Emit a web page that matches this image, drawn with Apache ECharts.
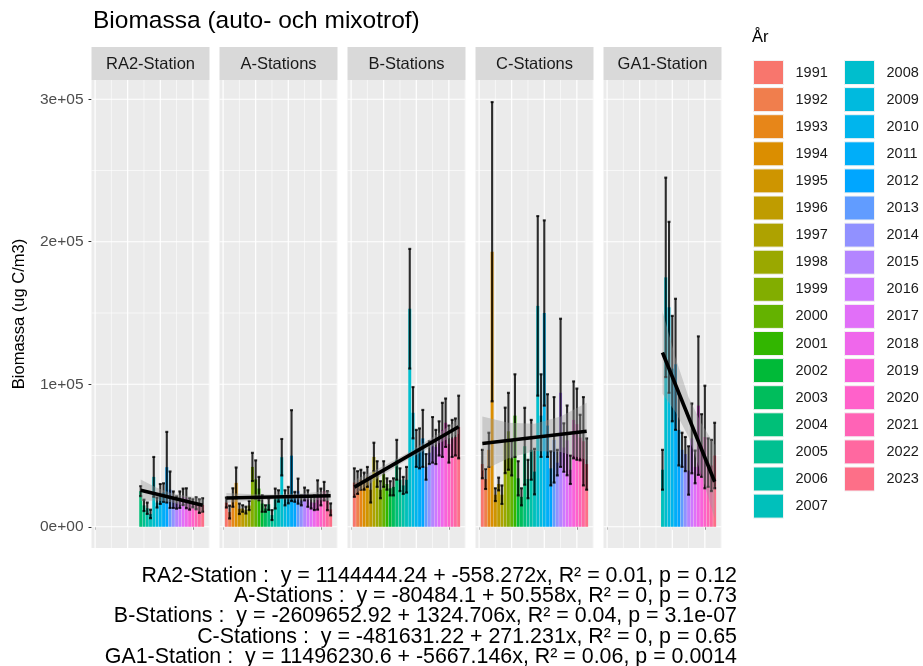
<!DOCTYPE html>
<html><head><meta charset="utf-8">
<script src="https://cdn.jsdelivr.net/npm/echarts@6/dist/echarts.min.js"></script>
<style>html,body{margin:0;padding:0;background:#fff}#c{width:923px;height:666px}</style>
</head><body><div id="c"></div>
<script>
// ---------------- DATA ----------------
const allYears = [1991,1992,1993,1994,1995,1996,1997,1998,1999,2000,2001,2002,2003,2004,2005,2006,2007,2008,2009,2010,2011,2012,2013,2014,2015,2016,2017,2018,2019,2020,2021,2022,2023];
const ra2Years = [2004,2005,2006,2007,2008,2009,2010,2011,2012,2013,2014,2015,2016,2017,2018,2019,2020,2021,2022,2023];
const ga1Years = [2007,2008,2009,2010,2011,2012,2013,2014,2015,2016,2017,2018,2019,2020,2021,2022,2023];

const stationNames = ["RA2-Station","A-Stations","B-Stations","C-Stations","GA1-Station"];

const ra2Mean = [25000,15000,13000,9000,35000,17000,23000,24000,41800,26000,19000,17000,19000,21000,20000,16000,16500,16500,14500,15300];
const ra2Sd   = [3500,4000,4000,3000,14000,3500,7000,6500,24800,12800,5800,4300,5800,5800,7000,4000,2800,4200,4800,4700];

const aMean = [17000,10300,20500,30800,12600,12800,11700,14900,42000,33200,26800,16300,12800,15800,8200,19800,21600,48800,20300,22200,49900,21000,25000,18500,23000,19800,17100,16900,22300,20900,25000,18300,12200];
const aSd   = [3500,4500,6500,10800,3700,2300,2400,3200,9900,13400,8200,5800,2300,4000,3500,7000,4000,12800,5300,5800,31900,3500,8800,3500,4500,5800,4300,5200,10300,5900,6500,6700,4200];

const bMean = [31000,31000,33000,32000,35000,26000,49000,37000,26000,37000,30000,27000,28000,47000,33000,29000,33000,153000,80000,55000,55000,62000,42000,52000,61000,56000,62000,68000,73000,58000,62000,63000,70000];
const bSd   = [10000,8000,7000,6000,7000,9000,10000,9000,6000,9000,4000,5000,6000,14000,8000,6000,9000,42000,18000,13000,14000,20000,9000,8000,16000,12000,12000,19000,17000,13000,13000,13000,22000];

const cMean = [44000,33500,54000,193000,22500,30000,22500,60600,67000,48000,78000,34000,21000,56500,33500,54000,38700,155000,78000,150000,71000,41000,61000,45000,94000,55600,60600,40000,75000,72000,62600,60000,44000];
const cSd   = [10000,7000,12000,105000,4500,4500,6500,23000,27000,12000,29000,12000,6000,27000,13500,21000,16000,63000,29000,65000,22000,12000,30000,9000,52000,17000,24500,10000,27000,25000,16000,31000,18000];

const ga1Mean = [40000,175000,154000,111000,114000,68000,54000,51000,39500,62000,42000,85000,57000,63000,45000,43000,50000];
const ga1Sd   = [14000,70000,60000,37000,46000,25000,12000,12000,17000,24500,11500,48600,22000,36000,17000,18000,23000];

// regression (from the printed equations)
const regIntercept = [1144444.24, -80484.1, -2609652.92, -481631.22, 11496230.6];
const regSlope     = [-558.272, 50.558, 1324.706, 271.231, -5667.146];

// confidence band: positions and half widths
const ra2BandX = [2004,2008.75,2013.5,2018.25,2023];
const ra2BandHalf = [7500,4500,3200,3800,5000];
const aBandX = [1991,1999,2007,2015,2023];
const aBandHalf = [3500,2200,1600,2200,3500];
const bBandX = [1991,1999,2007,2015,2023];
const bBandHalf = [5000,3200,2400,3200,5000];
const cBandX = [1991,1999,2007,2015,2023];
const cBandHalf = [19000,12500,9500,12500,20000];
const ga1BandX = [2007,2011,2015,2019,2023];
const ga1BandHalf = [29000,19000,14000,18000,26000];

// ticks
const xMajorTicks = [1990,2000,2010,2020];
const xMinorTicks = [1995,2005,2015,2025];
const yMajorTicks = [0,100000,200000,300000];
const yMinorTicks = [50000,150000,250000];
const yTickLabels = ["0e+00","1e+05","2e+05","3e+05"];

const captionLines = [
  "RA2-Station :  y = 1144444.24 + -558.272x, R\u00b2 = 0.01, p = 0.12",
  "A-Stations :  y = -80484.1 + 50.558x, R\u00b2 = 0, p = 0.73",
  "B-Stations :  y = -2609652.92 + 1324.706x, R\u00b2 = 0.04, p = 3.1e-07",
  "C-Stations :  y = -481631.22 + 271.231x, R\u00b2 = 0, p = 0.65",
  "GA1-Station :  y = 11496230.6 + -5667.146x, R\u00b2 = 0.06, p = 0.0014"
];

// ---------------- STYLE / LAYOUT ----------------
const FONT = '"Liberation Sans", Arial, Helvetica, sans-serif';
const P_LEFT0 = 91.5, P_PITCH = 128, P_W = 118, P_TOP = 80, P_H = 468;
const X_MIN = 1988.9, X_MAX = 2025.1, Y_MIN = -14900, Y_MAX = 313500;

// ggplot2 hue palette (style colours)
function hcl(h, c, l) {
  const hr = h * Math.PI / 180;
  const U = c * Math.cos(hr), V = c * Math.sin(hr);
  const Xn = 95.047, Yn = 100, Zn = 108.883;
  const den = Xn + 15 * Yn + 3 * Zn;
  const un = 4 * Xn / den, vn = 9 * Yn / den;
  const Y = Yn * (l > 8 ? Math.pow((l + 16) / 116, 3) : l / 903.3);
  const u = U / (13 * l) + un, v = V / (13 * l) + vn;
  const X = 9 * Y * u / (4 * v);
  const Z = Y * (12 - 3 * u - 20 * v) / (4 * v);
  const x = X / 100, y = Y / 100, z = Z / 100;
  let r = 3.240479 * x - 1.537150 * y - 0.498535 * z;
  let g = -0.969256 * x + 1.875992 * y + 0.041556 * z;
  let b = 0.055648 * x - 0.204043 * y + 1.057311 * z;
  const gam = t => t <= 0.0031308 ? 12.92 * t : 1.055 * Math.pow(t, 1 / 2.4) - 0.055;
  const to = t => Math.round(Math.max(0, Math.min(1, gam(t))) * 255);
  return 'rgb(' + to(r) + ',' + to(g) + ',' + to(b) + ')';
}
const palette = allYears.map((y, i) => hcl(15 + i * 360 / allYears.length, 100, 65));
const yearColor = y => palette[allYears.indexOf(y)];

const panels = [
  {name: stationNames[0], years: ra2Years, mean: ra2Mean, sd: ra2Sd, bandX: ra2BandX, bandHalf: ra2BandHalf},
  {name: stationNames[1], years: allYears, mean: aMean, sd: aSd, bandX: aBandX, bandHalf: aBandHalf},
  {name: stationNames[2], years: allYears, mean: bMean, sd: bSd, bandX: bBandX, bandHalf: bBandHalf},
  {name: stationNames[3], years: allYears, mean: cMean, sd: cSd, bandX: cBandX, bandHalf: cBandHalf},
  {name: stationNames[4], years: ga1Years, mean: ga1Mean, sd: ga1Sd, bandX: ga1BandX, bandHalf: ga1BandHalf}
];

const grids = [], xAxes = [], yAxes = [], series = [], graphics = [];

panels.forEach((p, i) => {
  const left = P_LEFT0 + i * P_PITCH;
  grids.push({left: left, top: P_TOP, width: P_W, height: P_H, show: true, backgroundColor: '#EBEBEB', borderWidth: 0, containLabel: false});
  xAxes.push({type: 'value', gridIndex: i, min: X_MIN, max: X_MAX,
    axisLine: {show: false}, splitLine: {show: false},
    axisTick: {show: true, customValues: xMajorTicks, length: 3, lineStyle: {color: '#333333', width: 1}},
    axisLabel: {show: false}});
  yAxes.push({type: 'value', gridIndex: i, min: Y_MIN, max: Y_MAX,
    axisLine: {show: false}, splitLine: {show: false},
    axisTick: {show: i === 0, customValues: yMajorTicks, length: 3, lineStyle: {color: '#333333', width: 1}},
    axisLabel: {show: i === 0, customValues: yMajorTicks, margin: 8, fontSize: 15.5, fontFamily: FONT, color: '#4D4D4D',
      formatter: v => yTickLabels[yMajorTicks.indexOf(v)]}});

  const gridData = [].concat(
    xMajorTicks.map(v => [v, 0, 1]), xMinorTicks.map(v => [v, 0, 0]),
    yMajorTicks.map(v => [v, 1, 1]), yMinorTicks.map(v => [v, 1, 0]));
  series.push({type: 'custom', xAxisIndex: i, yAxisIndex: i, silent: true, z: 1, animation: false,
    data: gridData,
    renderItem: (params, api) => {
      const cs = params.coordSys;
      const v = api.value(0), ax = api.value(1), major = api.value(2);
      let shape;
      if (ax === 0) { const x = api.coord([v, 0])[0]; shape = {x1: x, y1: cs.y, x2: x, y2: cs.y + cs.height}; }
      else { const y = api.coord([2000, v])[1]; shape = {x1: cs.x, y1: y, x2: cs.x + cs.width, y2: y}; }
      return {type: 'line', shape: shape, style: {stroke: '#FFFFFF', lineWidth: major ? 1.2 : 0.6}};
    }});

  const barData = p.years.map((y, k) => [y, p.mean[k], p.sd[k]]);
  series.push({type: 'custom', xAxisIndex: i, yAxisIndex: i, silent: true, z: 2, animation: false,
    data: barData,
    renderItem: (params, api) => {
      const y = api.value(0), m = api.value(1);
      const p0 = api.coord([y - 0.45, m]), p1 = api.coord([y + 0.45, 0]);
      return {type: 'rect', shape: {x: p0[0], y: p0[1], width: p1[0] - p0[0], height: p1[1] - p0[1]}, style: {fill: yearColor(y)}};
    }});
  series.push({type: 'custom', xAxisIndex: i, yAxisIndex: i, silent: true, z: 3, animation: false,
    data: barData,
    renderItem: (params, api) => {
      const y = api.value(0), m = api.value(1), s = api.value(2);
      const top = api.coord([y, m + s]), bot = api.coord([y, m - s]);
      const l = api.coord([y - 0.45, m])[0], r = api.coord([y + 0.45, m])[0];
      const st = {stroke: 'rgba(0,0,0,0.82)', lineWidth: 2.1};
      return {type: 'group', children: [
        {type: 'line', shape: {x1: top[0], y1: top[1], x2: bot[0], y2: bot[1]}, style: st},
        {type: 'line', shape: {x1: l, y1: top[1], x2: r, y2: top[1]}, style: st},
        {type: 'line', shape: {x1: l, y1: bot[1], x2: r, y2: bot[1]}, style: st}
      ]};
    }});

  const a = regIntercept[i], b = regSlope[i];
  series.push({type: 'custom', xAxisIndex: i, yAxisIndex: i, silent: true, z: 4, animation: false,
    data: [[p.bandX[0], 0]],
    renderItem: (params, api) => {
      const up = p.bandX.map((x, k) => api.coord([x, a + b * x + p.bandHalf[k]]));
      const lo = p.bandX.map((x, k) => api.coord([x, a + b * x - p.bandHalf[k]])).reverse();
      return {type: 'polygon', shape: {points: up.concat(lo)}, style: {fill: 'rgba(153,153,153,0.4)'}};
    }});
  const x0 = p.years[0], x1 = p.years[p.years.length - 1];
  series.push({type: 'line', xAxisIndex: i, yAxisIndex: i, silent: true, z: 5, animation: false,
    data: [[x0, a + b * x0], [x1, a + b * x1]], showSymbol: false, symbol: 'none',
    lineStyle: {color: '#000000', width: 3.6}});

  // facet strip
  graphics.push({type: 'rect', shape: {x: left, y: P_TOP - 33, width: P_W, height: 33}, style: {fill: '#D9D9D9'}, silent: true});
  graphics.push({type: 'text', style: {text: p.name, x: left + P_W / 2, y: P_TOP - 16, align: 'center', verticalAlign: 'middle',
    fontSize: 16.5, fontFamily: FONT, fill: '#1A1A1A'}, silent: true});
});

// legend dummy series
allYears.forEach(y => {
  series.push({type: 'bar', name: String(y), data: [], xAxisIndex: 0, yAxisIndex: 0, itemStyle: {color: yearColor(y)}});
});

const legendCommon = {orient: 'vertical', itemWidth: 30, itemHeight: 24, itemGap: 2.1, icon: 'rect', padding: 0,
  selectedMode: false, itemStyle: {borderColor: '#F2F2F2', borderWidth: 1},
  textStyle: {fontSize: 14.5, fontFamily: FONT, color: '#1A1A1A', padding: [0, 0, 0, 7]}};
const legends = [
  Object.assign({}, legendCommon, {left: 753, top: 60, data: allYears.slice(0, 17).map(String)}),
  Object.assign({}, legendCommon, {left: 844, top: 60, data: allYears.slice(17).map(String)})
];

graphics.push({type: 'text', style: {text: 'Biomassa (auto- och mixotrof)', x: 93, y: 21, verticalAlign: 'middle',
  fontSize: 24.5, fontFamily: FONT, fill: '#000000'}, silent: true});
graphics.push({type: 'text', x: 19, y: P_TOP + P_H / 2, rotation: Math.PI / 2,
  style: {text: 'Biomassa (ug C/m3)', x: 0, y: 0, align: 'center', verticalAlign: 'middle',
  fontSize: 16.5, fontFamily: FONT, fill: '#000000'}, silent: true});
graphics.push({type: 'text', style: {text: '\u00c5r', x: 752, y: 37, verticalAlign: 'middle',
  fontSize: 16.5, fontFamily: FONT, fill: '#000000'}, silent: true});
captionLines.forEach((t, k) => {
  graphics.push({type: 'text', style: {text: t, x: 737, y: 576 + k * 20.3, align: 'right', verticalAlign: 'middle',
    fontSize: 21.4, fontFamily: FONT, fill: '#000000'}, silent: true});
});

const chart = echarts.init(document.getElementById('c'), null, {renderer: 'canvas'});
chart.setOption({
  animation: false,
  backgroundColor: '#FFFFFF',
  grid: grids, xAxis: xAxes, yAxis: yAxes,
  legend: legends,
  series: series,
  graphic: graphics
});
</script></body></html>
